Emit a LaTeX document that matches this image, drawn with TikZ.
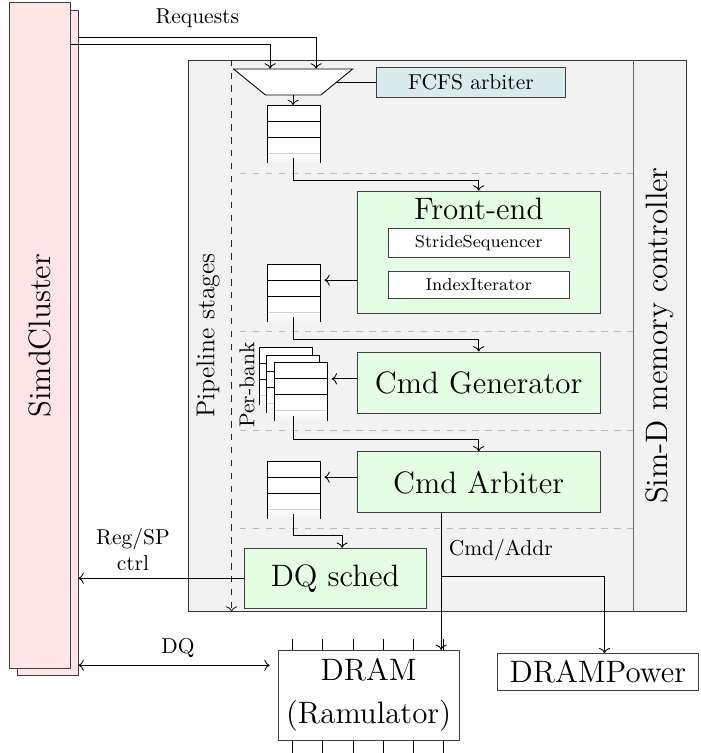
\documentclass[tikz,border=0pt]{standalone}
\usepackage{tikz}
\usetikzlibrary{shapes.geometric,arrows.meta,positioning,calc}

\tikzset{
  stagebox/.style={rectangle,draw=black!75,fill=#1,font=\Large,align=center,
    minimum width=3.97cm,minimum height=0.997cm},
  stagebox/.default={green!10},
  subunit/.style={rectangle,draw=black!75,fill=white,font=\footnotesize,
    minimum width=2.96cm,minimum height=0.45cm},
  simdbox/.style={rectangle,draw=black!75,fill=red!10,minimum width=0.997cm,minimum height=10.87cm},
  fifobox/.style={rectangle,minimum width=0.866cm,minimum height=0.948cm,inner sep=0pt,outer sep=0pt},
  muxshape/.style={trapezium,trapezium left angle=120,trapezium right angle=120,
    trapezium stretches=true,draw,fill=white,minimum width=1.945cm,minimum height=0.425cm},
  stagesep/.style={gray!55,dashed},
  conn/.style={->,#1},
  conn/.default={black},
  vlabel/.style={rotate=90,font=#1},
  vlabel/.default={\Large},
}

% queue with three filled slots and a fading tail
\newcommand{\drawfifo}[2]{%
  \node[fifobox,anchor=north west] (#1) at (#2) {};
  \fill[white] (#1.north west) rectangle ([yshift=-0.784cm]#1.north east);
  \shade[top color=white,bottom color=gray!10] ([yshift=-0.784cm]#1.north west) rectangle (#1.south east);
  \draw[gray!35] ([yshift=-0.784cm]#1.north west) -- ([yshift=-0.784cm]#1.north east);
  \draw ([yshift=-0.261cm]#1.north west) -- ([yshift=-0.261cm]#1.north east)
        ([yshift=-0.522cm]#1.north west) -- ([yshift=-0.522cm]#1.north east);
  \draw (#1.south west) -- (#1.north west) -- (#1.north east) -- (#1.south east);
  \coordinate (#1-in) at ([xshift=0.07cm,yshift=-0.261cm]#1.north east);
}

\begin{document}
\begin{tikzpicture}[node distance=0.62cm]
  \useasboundingbox (0,0) rectangle (11.44,-12.30);

  % SimdCluster
  \node[simdbox] (simdback) at (0.776,-5.605) {};
  \node[simdbox] (simd) at (0.645,-5.482) {};
  \node[vlabel] (simdlabel) at (simd) {SimdCluster};

  % memory controller frame
  \node[draw=black!80,fill=gray!10,minimum width=8.137cm,minimum height=9.003cm] (mc) at (7.14,-5.482) {};
  \draw[black!60] ([xshift=-0.866cm]mc.north east) -- ([xshift=-0.866cm]mc.south east);
  \node[vlabel] (mclabel) at (10.776,-5.482) {Sim-D memory controller};
  \foreach \y in {-2.827,-5.409,-7.026,-8.628}
    \draw[stagesep] (3.92,\y) -- (10.34,\y);
  \draw[conn=black!85,dashed] ([xshift=0.719cm]mc.north west) -- ([xshift=0.719cm]mc.south west);
  \node[vlabel=\large] (pipelabel) at (3.40,-5.482) {Pipeline stages};

  % arbitration
  \node[muxshape] (mux) at (4.788,-1.34) {};
  \node[rectangle,draw=black!75,fill=teal!15,minimum width=3.09cm,minimum height=0.49cm,
    right=0.63cm of mux] (fcfs) {FCFS arbiter};
  \draw (mux) -- (fcfs);
  \drawfifo{q1}{4.363,-1.716}
  \draw[conn] (mux.south) -- (mux.south |- q1.north);

  % stages
  \node[stagebox,minimum height=1.994cm] (fe) at (7.819,-4.118) {};
  \node[font=\Large,below=0pt of fe.north] (fetitle) {Front-end};
  \node[subunit,below=0pt of fetitle] (seq) {StrideSequencer};
  \node[subunit,below=0.2cm of seq] (idx) {IndexIterator};
  \node[stagebox,below=of fe] (cg) {Cmd Generator};
  \node[stagebox,below=of cg] (ca) {Cmd Arbiter};
  \node[stagebox,minimum width=2.974cm,minimum height=0.98cm] (dq) at (5.474,-9.445) {DQ sched};

  \drawfifo{q2}{4.363,-4.314}
  \drawfifo{pb1}{4.237,-5.675}
  \drawfifo{pb2}{4.358,-5.801}
  \drawfifo{pb3}{4.482,-5.927}
  \node[vlabel=\normalsize] (perbank) at (4.036,-6.291) {Per-bank};
  \drawfifo{q3}{4.363,-7.533}

  \draw[conn] ([yshift=0.08cm]q1.south) |- ([yshift=0.163cm]fe.north) -- (fe.north);
  \draw[conn] (fe.west |- q2-in) -- (q2-in);
  \draw[conn] ([yshift=0.08cm]q2.south) |- ([yshift=0.196cm]cg.north) -- (cg.north);
  \draw[conn] (cg.west |- pb3-in) -- (pb3-in);
  \draw[conn] ([yshift=-0.05cm]pb2.south) |- ([yshift=0.196cm]ca.north) -- (ca.north);
  \draw[conn] (ca.west |- q3-in) -- (q3-in);
  \draw[conn] ([yshift=0.08cm]q3.south) |- ([xshift=0.114cm,yshift=0.196cm]dq.north) -- ([xshift=0.114cm]dq.north);

  % requests from the cluster
  \draw[conn] ([yshift=-0.442cm]simdback.north east) -| ([xshift=0.376cm]mux.north)
    node[pos=0.25,above,yshift=1pt] {Requests};
  \draw[conn] ([yshift=-0.685cm]simd.north east) -| ([xshift=-0.376cm]mux.north);
  \draw[conn] (dq.west) -- (dq.west -| simdback.east)
    node[pos=0.67,above,align=center] {Reg/SP\\ctrl};

  % DRAM side
  \node[draw=black!75,fill=white,font=\Large,align=center,minimum width=2.958cm,
    minimum height=1.47cm] (dram) at (6.021,-11.357) {DRAM\\[2pt](Ramulator)};
  \foreach \i in {0,...,5} {
    \draw ([xshift=0.245cm+\i*0.493cm]dram.north west) -- ++(0,0.18);
    \draw ([xshift=0.245cm+\i*0.493cm]dram.south west) -- ++(0,-0.25);
  }
  \node[draw=black!75,font=\Large,minimum width=3.28cm,anchor=west] (dp) at (8.12,-10.98) {DRAMPower};

  \coordinate (dqin) at ([yshift=0.18cm]simdback.south east);
  \draw[<->,shorten >=0.13cm] (dqin) -- (dqin -| dram.west) node[midway,above] {DQ};

  \coordinate (tap) at ([xshift=-0.613cm]ca.south);
  \draw[conn] (tap) -- (tap |- dram.north);
  \draw[conn] (tap) -- ++(0,-1.03) node[above right,yshift=0.13cm] (cmdaddr) {Cmd/Addr}
    -| ([xshift=0.108cm]dp.north);
\end{tikzpicture}
\end{document}
